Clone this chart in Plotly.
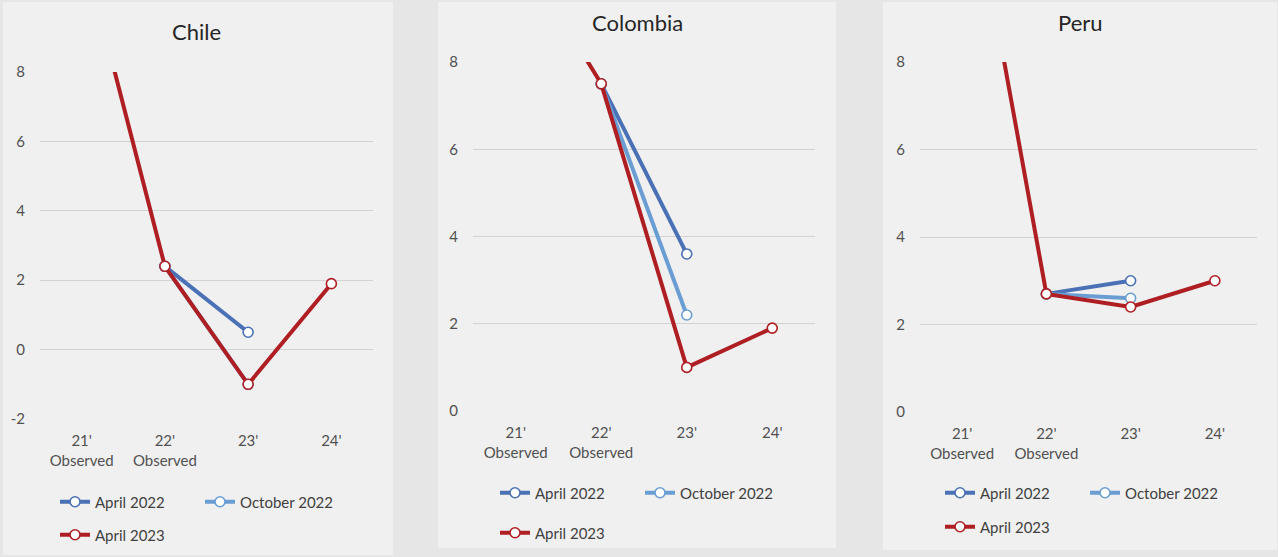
import plotly.graph_objects as go

W, H = 1278, 557

categories = ["21'<br>Observed", "22'<br>Observed", "23'", "24'"]
series_names = ["April 2022", "October 2022", "April 2023"]
countries = ["Chile", "Colombia", "Peru"]

nan = float("nan")
chile_apr22 = [nan, 2.4, 0.5, nan]
chile_oct22 = [nan, 2.4, -1.0, nan]
chile_apr23 = [11.7, 2.4, -1.0, 1.9]

colombia_apr22 = [nan, 7.5, 3.6, nan]
colombia_oct22 = [nan, 7.5, 2.2, nan]
colombia_apr23 = [10.7, 7.5, 1.0, 1.9]

peru_apr22 = [nan, 2.7, 3.0, nan]
peru_oct22 = [nan, 2.7, 2.6, nan]
peru_apr23 = [13.3, 2.7, 2.4, 3.0]

yticks_chile = [-2, 0, 2, 4, 6, 8]
yticks_other = [0, 2, 4, 6, 8]

data = {
    "Chile": [chile_apr22, chile_oct22, chile_apr23],
    "Colombia": [colombia_apr22, colombia_oct22, colombia_apr23],
    "Peru": [peru_apr22, peru_oct22, peru_apr23],
}

colors = ["#4A70B5", "#6A9ED3", "#AE1E23"]
FONT = "Lato, Open Sans, sans-serif"

def px_x(p):
    return p / W

def px_y(p):
    return 1 - p / H

# layout geometry in pixels
panels = [(3, 2, 393, 555), (438, 2, 836, 548), (883, 2, 1277, 550)]
plot_x = [(40, 373), (473, 815), (920, 1257)]
plot_y = [(72, 419), (62, 411), (62, 412)]
yranges = [[-2, 8], [0, 8], [0, 8]]
title_pos = [(196, 32), (637, 23), (1080, 23)]
legend_x = [55, 495, 940]
legend_y1 = [502, 493, 493]
legend_y2 = [535, 533, 527]

fig = go.Figure()

for i, c in enumerate(countries):
    ax = "" if i == 0 else str(i + 1)
    for j, name in enumerate(series_names):
        leg = 2 * i + (1 if j < 2 else 2)
        legname = "legend" if leg == 1 else f"legend{leg}"
        fig.add_trace(go.Scatter(
            x=categories, y=data[c][j], mode="lines+markers", name=name,
            line=dict(color=colors[j], width=4),
            marker=dict(symbol="circle", size=10, color="white",
                        line=dict(color=colors[j], width=1.6)),
            connectgaps=False,
            xaxis="x" + ax, yaxis="y" + ax, legend=legname,
            showlegend=True,
        ))

shapes = []
annotations = []
for i, c in enumerate(countries):
    ax = "" if i == 0 else str(i + 1)
    x0, x1 = plot_x[i]
    y0, y1 = plot_y[i]
    yt = yticks_chile if i == 0 else yticks_other
    fig.layout["xaxis" + ax] = dict(
        domain=[px_x(x0), px_x(x1)], anchor="y" + ax, type="category",
        range=[-0.5, 3.5], showgrid=False, showline=False, zeroline=False,
        ticks="", tickfont=dict(family=FONT, size=15, color="#505050"),
        ticklabelstandoff=11, fixedrange=True,
    )
    fig.layout["yaxis" + ax] = dict(
        domain=[px_y(y1), px_y(y0)], anchor="x" + ax, range=yranges[i],
        tickvals=yt, ticktext=[str(v) for v in yt],
        showgrid=True, gridcolor="#D3D3D3", gridwidth=1.2,
        zeroline=False, showline=False, ticks="",
        tickfont=dict(family=FONT, size=15, color="#505050"),
        ticklabelstandoff=14, fixedrange=True,
    )
    px0, py0, px1, py1 = panels[i]
    shapes.append(dict(type="rect", xref="paper", yref="paper",
                       x0=px_x(px0), x1=px_x(px1), y0=px_y(py1), y1=px_y(py0),
                       fillcolor="#F0F0F0", line=dict(width=0), layer="below"))
    tx, ty = title_pos[i]
    annotations.append(dict(text=c, x=px_x(tx), y=px_y(ty), xref="paper", yref="paper",
                            showarrow=False, xanchor="center", yanchor="middle",
                            font=dict(family=FONT, size=22, color="#262626")))
    l1 = "legend" if i == 0 else f"legend{2 * i + 1}"
    l2 = f"legend{2 * i + 2}"
    for lname, ly in [(l1, legend_y1[i]), (l2, legend_y2[i])]:
        fig.layout[lname] = dict(
            x=px_x(legend_x[i]), y=px_y(ly), xanchor="left", yanchor="middle",
            orientation="h", bgcolor="rgba(0,0,0,0)", borderwidth=0,
            font=dict(family=FONT, size=15, color="#404040"),
            entrywidth=100, itemclick=False, itemdoubleclick=False,
        )

fig.update_layout(
    width=W, height=H, margin=dict(l=0, r=0, t=0, b=0, autoexpand=False),
    paper_bgcolor="#E6E6E6", plot_bgcolor="#F0F0F0",
    shapes=shapes, annotations=annotations, showlegend=True,
)

fig.write_html("out.html", config={"displayModeBar": False})
